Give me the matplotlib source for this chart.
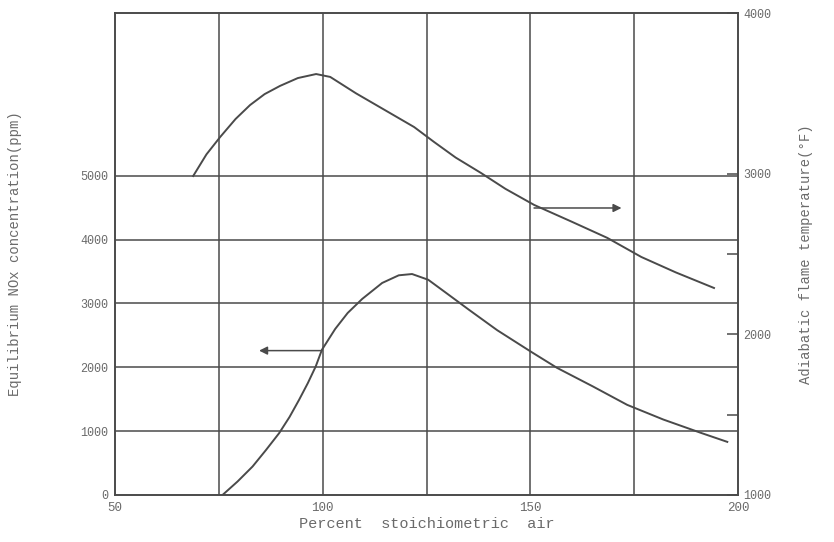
import matplotlib.pyplot as plt

# percent stoichiometric air vs NOx (left axis)
air_nox = [75.9, 79.5, 83.1, 86.3, 89.5, 92, 94.3, 96.4, 98.3, 99.8, 103, 106, 109.5, 114.3, 118.3, 121.5, 125.4, 130, 135.2, 142, 150.2, 156.4, 165, 173.3, 182, 191.1, 197.4]
nox = [0, 210, 444, 700, 967, 1220, 1489, 1750, 2011, 2273, 2600, 2850, 3070, 3320, 3440, 3460, 3370, 3150, 2900, 2580, 2240, 1990, 1700, 1410, 1180, 970, 830]

# percent stoichiometric air vs flame temperature (right axis)
air_temp = [68.8, 72, 75.3, 79, 82.5, 86, 89.7, 94, 98.4, 101.8, 108, 115, 122, 126.8, 132, 138.1, 144, 150.9, 160, 168.5, 176.7, 185, 194.2]
temp = [2985, 3120, 3228, 3340, 3427, 3495, 3546, 3595, 3620, 3602, 3500, 3395, 3290, 3197, 3100, 3004, 2905, 2805, 2700, 2600, 2481, 2385, 2288]

x_ticks = [50, 100, 150, 200]
nox_ticks = [0, 1000, 2000, 3000, 4000, 5000]
temp_ticks = [1000, 2000, 3000, 4000]

line_col = "#4a4a4a"
text_col = "#6a6a6a"

fig = plt.figure(figsize=(8.34, 5.42), dpi=100)
ax = fig.add_axes([0.138, 0.087, 0.747, 0.889])
ax2 = ax.twinx()

ax.plot(air_nox, nox, color=line_col, lw=1.4)
ax2.plot(air_temp, temp, color=line_col, lw=1.4)

ax.set_xlim(50, 200)
ax.set_ylim(0, 7550)
ax2.set_ylim(1000, 4000)

# grid
for gx in [75, 100, 125, 150, 175]:
    ax.axvline(gx, color=line_col, lw=1.1)
for gy in nox_ticks[1:]:
    ax.axhline(gy, color=line_col, lw=1.1)

for a in (ax, ax2):
    for s in a.spines.values():
        s.set_color(line_col)
        s.set_linewidth(1.2)

mono = "Liberation Mono"
ax.set_xticks(x_ticks)
ax.set_xticklabels([str(v) for v in x_ticks], family=mono, fontsize=9, color=text_col)
ax.set_yticks(nox_ticks)
ax.set_yticklabels([str(v) for v in nox_ticks], family=mono, fontsize=8.5, color=text_col)
ax.tick_params(axis="both", length=0, pad=5)

ax2.set_yticks(temp_ticks)
ax2.set_yticklabels([str(v) for v in temp_ticks], family=mono, fontsize=8.5, color=text_col)
ax2.set_yticks([1500, 2500], minor=True)
ax2.tick_params(axis="y", which="both", direction="in", length=8, width=1.1,
                color=line_col, pad=4)

# arrows pointing to the axes
ax.annotate("", xy=(84, 2260), xytext=(100.5, 2260),
            arrowprops=dict(arrowstyle="-|>", color=line_col, lw=1.1, mutation_scale=12))
ax2.annotate("", xy=(172.6, 2786), xytext=(150.2, 2786),
             arrowprops=dict(arrowstyle="-|>", color=line_col, lw=1.1, mutation_scale=12))

ax.set_xlabel("Percent  stoichiometric  air", family=mono, fontsize=11, color=text_col, labelpad=2)
ax.set_ylabel("Equilibrium NOx concentration(ppm)", family=mono, fontsize=10, color=text_col, labelpad=42)
ax2.set_ylabel("Adiabatic flame temperature(°F)", family=mono, fontsize=10, color=text_col, labelpad=20)

fig.savefig("out.png", dpi=100)
